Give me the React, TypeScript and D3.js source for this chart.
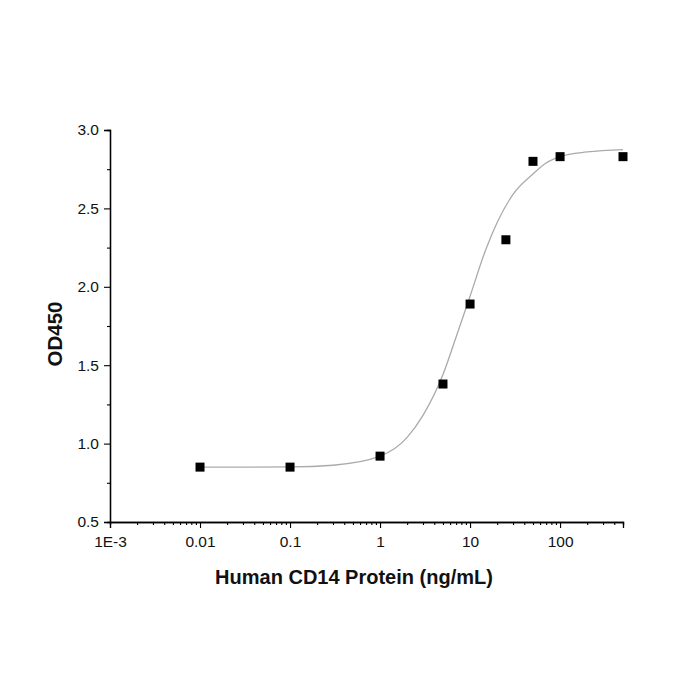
import * as d3 from 'd3';
import * as React from 'react';

// measured points (ng/mL vs OD450)
const concentrations = [0.01, 0.1, 1, 5, 10, 25, 50, 100, 500];
const od450 = [0.85, 0.85, 0.92, 1.38, 1.89, 2.30, 2.80, 2.83, 2.83];

// fitted curve
const curveX = [0.01, 0.1, 0.3, 1, 2, 3, 5, 7, 10, 15, 20, 30, 50, 70, 100, 200, 500];
const curveY = [0.85, 0.851, 0.862, 0.92, 1.04, 1.18, 1.44, 1.68, 1.94, 2.24, 2.41, 2.59, 2.72, 2.79, 2.83, 2.86, 2.875];

const xTickValues = [0.001, 0.01, 0.1, 1, 10, 100];
const xTickLabels = ['1E-3', '0.01', '0.1', '1', '10', '100'];
const yTickValues = [0.5, 1.0, 1.5, 2.0, 2.5, 3.0];

const font = '"Liberation Sans", Arial, sans-serif';

export default function App() {
    const axisRef = React.useRef<SVGGElement | null>(null);

    const left = 110;
    const right = 623;
    const top = 130;
    const bottom = 522;

    const x = d3.scaleLog().domain([0.001, 500]).range([left, right]);
    const y = d3.scaleLinear().domain([0.5, 3.0]).range([bottom, top]);

    React.useEffect(() => {
        if (!axisRef.current) return;
        const g = d3.select(axisRef.current);
        g.selectAll('*').remove();

        // minor ticks on the log axis
        const minor: number[] = [];
        for (let e = -3; e <= 2; e++) {
            for (let m = 2; m <= 9; m++) {
                const v = m * Math.pow(10, e);
                if (v <= 500) minor.push(v);
            }
        }
        const xMinor = d3.axisBottom(x).tickValues(minor).tickSize(3).tickFormat(() => '');
        g.append('g').attr('transform', `translate(0,${bottom})`).call(xMinor);

        const xAxis = d3.axisBottom(x)
            .tickValues(xTickValues)
            .tickSize(6)
            .tickPadding(8)
            .tickFormat((d, i) => xTickLabels[i]);
        g.append('g').attr('transform', `translate(0,${bottom})`).call(xAxis);

        const yMinor = d3.axisLeft(y).tickValues([0.75, 1.25, 1.75, 2.25, 2.75]).tickSize(3).tickFormat(() => '');
        g.append('g').attr('transform', `translate(${left},0)`).call(yMinor);

        const yAxis = d3.axisLeft(y)
            .tickValues(yTickValues)
            .tickSize(6)
            .tickPadding(5)
            .tickFormat(d3.format('.1f'));
        g.append('g').attr('transform', `translate(${left},0)`).call(yAxis);

        g.selectAll('.domain').attr('stroke', '#000').attr('stroke-width', 1.3);
        g.selectAll('.tick line').attr('stroke', '#000').attr('stroke-width', 1.1);
        g.selectAll('.tick text')
            .attr('font-family', font)
            .attr('font-size', 15.5)
            .attr('fill', '#111');
    }, []);

    const line = d3.line<number>()
        .x((d, i) => x(curveX[i]))
        .y(d => y(d))
        .curve(d3.curveMonotoneX);

    return (
        <div style={{ position: 'absolute', left: 0, top: 0 }}>
            <svg width={700} height={700} style={{ display: 'block', background: '#fff' }}>
                <g ref={axisRef} />
                <path d={line(curveY) || ''} fill="none" stroke="#aaa" strokeWidth={1.3} />
                {concentrations.map((c, i) => (
                    <rect
                        key={i}
                        x={x(c) - 4.5}
                        y={y(od450[i]) - 4.5}
                        width={9}
                        height={9}
                        fill="#000"
                    />
                ))}
                <text
                    x={354}
                    y={584}
                    textAnchor="middle"
                    fontFamily={font}
                    fontWeight="bold"
                    fontSize={20}
                    fill="#111"
                >
                    Human CD14 Protein (ng/mL)
                </text>
                <text
                    transform="translate(62,334) rotate(-90)"
                    textAnchor="middle"
                    fontFamily={font}
                    fontWeight="bold"
                    fontSize={20.5}
                    fill="#111"
                >
                    OD450
                </text>
            </svg>
        </div>
    );
}
